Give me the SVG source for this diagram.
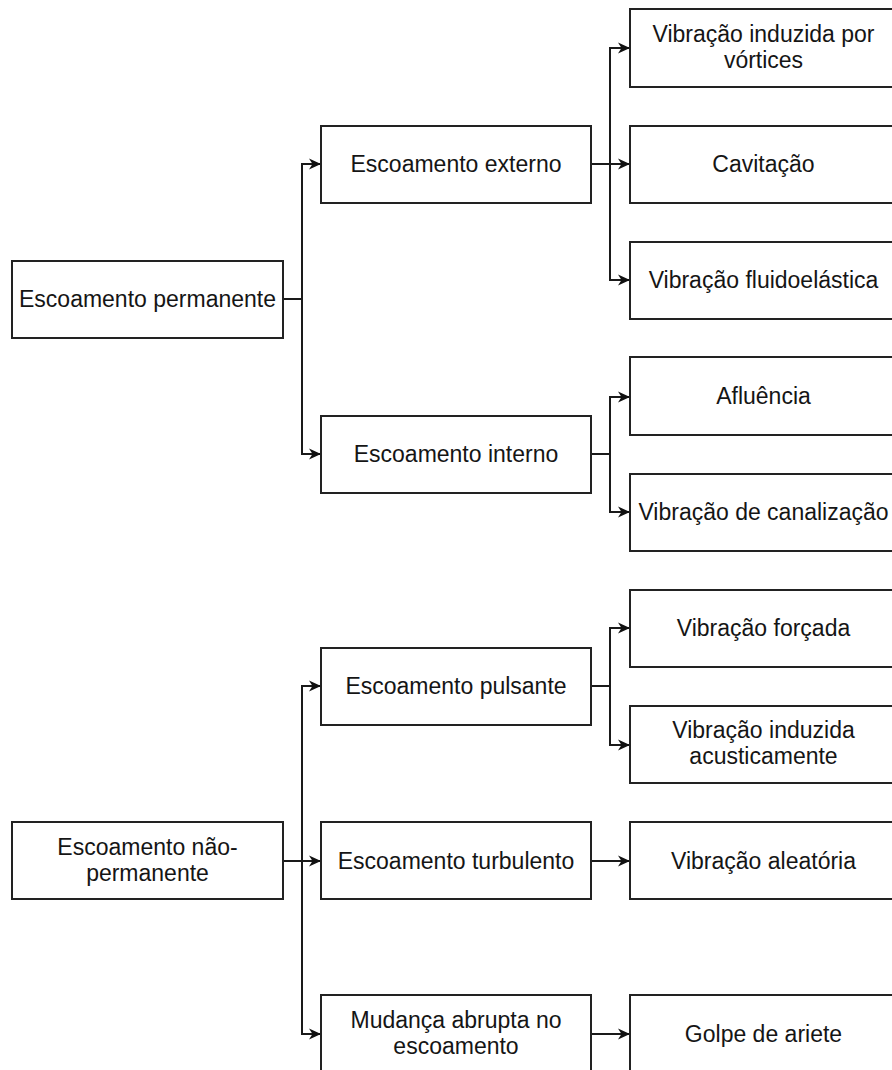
<svg xmlns="http://www.w3.org/2000/svg" width="892" height="1070" viewBox="0 0 892 1070">
  <style>
    .box { fill: #ffffff; stroke: #222222; stroke-width: 2; }
    .lbl { font-family: "Liberation Sans", Arial, sans-serif; font-size: 23px; fill: #151515; text-anchor: middle; }
    .wire { fill: none; stroke: #1a1a1a; stroke-width: 2; }
  </style>
  <defs>
    <marker id="arrow" markerUnits="userSpaceOnUse" markerWidth="14" markerHeight="12" refX="12" refY="6" orient="auto">
      <path d="M0,0.5 L12,6 L0,11.5 L3.5,6 Z" fill="#111111"/>
    </marker>
  </defs>
  <rect width="892" height="1070" fill="#ffffff"/>

  <!-- connectors -->
  <g id="connectors">
    <path class="wire" d="M283,299 H302 V164 H321" marker-end="url(#arrow)"/>
    <path class="wire" d="M302,299 V454 H321" marker-end="url(#arrow)"/>
    <path class="wire" d="M591,164 H610 V48 H630" marker-end="url(#arrow)"/>
    <path class="wire" d="M610,164 H630" marker-end="url(#arrow)"/>
    <path class="wire" d="M610,164 V280 H630" marker-end="url(#arrow)"/>
    <path class="wire" d="M591,454 H610 V397 H630" marker-end="url(#arrow)"/>
    <path class="wire" d="M610,454 V512 H630" marker-end="url(#arrow)"/>
    <path class="wire" d="M591,686 H610 V628 H630" marker-end="url(#arrow)"/>
    <path class="wire" d="M610,686 V745 H630" marker-end="url(#arrow)"/>
    <path class="wire" d="M283,861 H302 V686 H321" marker-end="url(#arrow)"/>
    <path class="wire" d="M302,861 H321" marker-end="url(#arrow)"/>
    <path class="wire" d="M302,861 V1034 H321" marker-end="url(#arrow)"/>
    <path class="wire" d="M591,861 H630" marker-end="url(#arrow)"/>
    <path class="wire" d="M591,1034 H630" marker-end="url(#arrow)"/>
  </g>

  <!-- level 1 -->
  <g id="escoamento-permanente">
    <rect class="box" x="12" y="261" width="271" height="77"/>
    <text class="lbl" x="147.5" y="307">Escoamento permanente</text>
  </g>
  <g id="escoamento-nao-permanente">
    <rect class="box" x="12" y="822" width="271" height="77"/>
    <text class="lbl" x="147.5" y="855">Escoamento não-</text>
    <text class="lbl" x="147.5" y="881">permanente</text>
  </g>

  <!-- level 2 -->
  <g id="escoamento-externo">
    <rect class="box" x="321" y="126" width="270" height="77"/>
    <text class="lbl" x="456" y="172">Escoamento externo</text>
  </g>
  <g id="escoamento-interno">
    <rect class="box" x="321" y="416" width="270" height="77"/>
    <text class="lbl" x="456" y="462">Escoamento interno</text>
  </g>
  <g id="escoamento-pulsante">
    <rect class="box" x="321" y="648" width="270" height="77"/>
    <text class="lbl" x="456" y="694">Escoamento pulsante</text>
  </g>
  <g id="escoamento-turbulento">
    <rect class="box" x="321" y="822" width="270" height="77"/>
    <text class="lbl" x="456" y="869">Escoamento turbulento</text>
  </g>
  <g id="mudanca-abrupta">
    <rect class="box" x="321" y="995" width="270" height="77"/>
    <text class="lbl" x="456" y="1028">Mudança abrupta no</text>
    <text class="lbl" x="456" y="1054">escoamento</text>
  </g>

  <!-- level 3 -->
  <g id="vibracao-vortices">
    <rect class="box" x="630" y="9" width="267" height="78"/>
    <text class="lbl" x="763.5" y="42">Vibração induzida por</text>
    <text class="lbl" x="763.5" y="68">vórtices</text>
  </g>
  <g id="cavitacao">
    <rect class="box" x="630" y="126" width="267" height="77"/>
    <text class="lbl" x="763.5" y="172">Cavitação</text>
  </g>
  <g id="vibracao-fluidoelastica">
    <rect class="box" x="630" y="242" width="267" height="77"/>
    <text class="lbl" x="763.5" y="288">Vibração fluidoelástica</text>
  </g>
  <g id="afluencia">
    <rect class="box" x="630" y="357" width="267" height="78"/>
    <text class="lbl" x="763.5" y="404">Afluência</text>
  </g>
  <g id="vibracao-canalizacao">
    <rect class="box" x="630" y="474" width="267" height="77"/>
    <text class="lbl" x="763.5" y="520">Vibração de canalização</text>
  </g>
  <g id="vibracao-forcada">
    <rect class="box" x="630" y="590" width="267" height="77"/>
    <text class="lbl" x="763.5" y="636">Vibração forçada</text>
  </g>
  <g id="vibracao-acustica">
    <rect class="box" x="630" y="706" width="267" height="77"/>
    <text class="lbl" x="763.5" y="738">Vibração induzida</text>
    <text class="lbl" x="763.5" y="764">acusticamente</text>
  </g>
  <g id="vibracao-aleatoria">
    <rect class="box" x="630" y="822" width="267" height="77"/>
    <text class="lbl" x="763.5" y="869">Vibração aleatória</text>
  </g>
  <g id="golpe-de-ariete">
    <rect class="box" x="630" y="995" width="267" height="77"/>
    <text class="lbl" x="763.5" y="1042">Golpe de ariete</text>
  </g>
</svg>
